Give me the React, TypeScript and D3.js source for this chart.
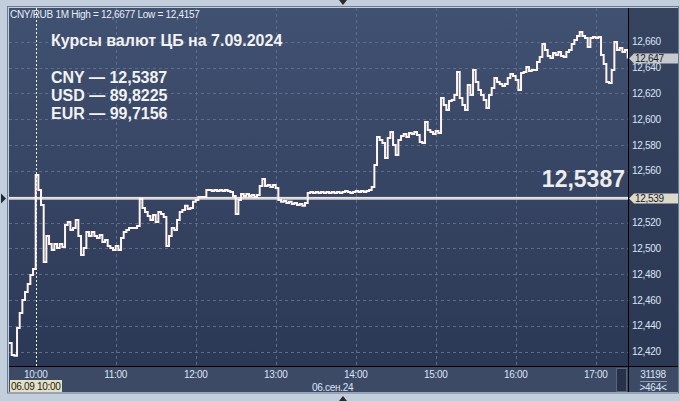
import * as d3 from "d3";

// chart texts
const headerText = "CNY/RUB 1M  High = 12,6677 Low = 12,4157";
const titleText = "Курсы валют ЦБ на 7.09.2024";
const rateLines = ["CNY — 12,5387", "USD — 89,8225", "EUR — 99,7156"];
const dateBox = "06.09 10:00";
const dayLabel = "06.сен.24";
const barsCount = "31198";
const barsShown = ">464<";

const cbRate = 12.5387;
const lastPrice = 12.647;

// 2-minute closes from 09:40
const startTime = new Date(2024, 8, 6, 9, 40);
const stepMinutes = 2;
const prices = [
  12.4268, 12.4175, 12.4168, 12.4384, 12.45, 12.4601, 12.4663, 12.4725, 12.4794, 12.4841,
  12.5568, 12.5452, 12.5336, 12.4895, 12.5096, 12.5034, 12.4988, 12.5034, 12.5003, 12.5034,
  12.5011, 12.5181, 12.5205, 12.5143, 12.5158, 12.522, 12.5096, 12.4949, 12.5003, 12.5127,
  12.5096, 12.5127, 12.5096, 12.5081, 12.5104, 12.505, 12.5065, 12.5019, 12.5003, 12.4988,
  12.5019, 12.4988, 12.5081, 12.5127, 12.5143, 12.5158, 12.5158, 12.5158, 12.5174, 12.5383,
  12.5313, 12.5282, 12.5251, 12.522, 12.5259, 12.5205, 12.5282, 12.5267, 12.5243, 12.5019,
  12.5096, 12.5158, 12.5143, 12.522, 12.5282, 12.5298, 12.5329, 12.5305, 12.5313, 12.536,
  12.5375, 12.5398, 12.5398, 12.5398, 12.5452, 12.5452, 12.5445, 12.5452, 12.5445, 12.5452,
  12.5445, 12.5452, 12.5445, 12.5437, 12.5406, 12.5267, 12.5375, 12.5421, 12.5406, 12.5421,
  12.5406, 12.5414, 12.5398, 12.5414, 12.5483, 12.5538, 12.5483, 12.5491, 12.5476, 12.5491,
  12.5468, 12.5375, 12.536, 12.5367, 12.5352, 12.536, 12.5344, 12.5352, 12.5336, 12.5344,
  12.5329, 12.5352, 12.5429, 12.5437, 12.5429, 12.5437, 12.5429, 12.5437, 12.5429, 12.5437,
  12.5429, 12.5437, 12.5429, 12.5437, 12.5429, 12.5437, 12.5445, 12.5437, 12.5429, 12.5437,
  12.5445, 12.5437, 12.5445, 12.5437, 12.5445, 12.5452, 12.5476, 12.5646, 12.5863, 12.5839,
  12.5816, 12.57, 12.5855, 12.5901, 12.5801, 12.5723, 12.5839, 12.587, 12.5886, 12.5863,
  12.5894, 12.5886, 12.5901, 12.5878, 12.5824, 12.5816, 12.5979, 12.5917, 12.5901, 12.5886,
  12.5909, 12.5894, 12.6164, 12.611, 12.6072, 12.6141, 12.6149, 12.6188, 12.6366, 12.6164,
  12.611, 12.6072, 12.6265, 12.6188, 12.6381, 12.6288, 12.6226, 12.6188, 12.6149, 12.6087,
  12.6188, 12.6242, 12.6319, 12.6288, 12.6273, 12.6257, 12.6273, 12.6319, 12.635, 12.6335,
  12.6304, 12.6226, 12.6358, 12.6366, 12.6404, 12.6373, 12.6381, 12.6381, 12.6443, 12.6482,
  12.6582, 12.6536, 12.649, 12.6474, 12.6513, 12.6497, 12.6521, 12.649, 12.6482, 12.6521,
  12.6536, 12.6582, 12.6613, 12.6644, 12.6675, 12.6644, 12.6629, 12.6559, 12.6629, 12.6637,
  12.6629, 12.6637, 12.6497, 12.6428, 12.6288, 12.6281, 12.6381, 12.6598, 12.6536, 12.6551,
  12.6521, 12.6536, 12.647,
];

const yTicks = [12.42, 12.44, 12.46, 12.48, 12.5, 12.52, 12.54, 12.56, 12.58, 12.6, 12.62, 12.64, 12.66];
const hourTicks = [10, 11, 12, 13, 14, 15, 16, 17];

const W = 680;
const H = 401;
const plot = { left: 9, right: 628, top: 8, bottom: 366 };
const font = "'Liberation Sans', Arial, sans-serif";

const comma = (v: number, digits: number) => v.toFixed(digits).replace(".", ",");

export default function App() {
  const series = prices.map((v, i) => ({
    t: d3.timeMinute.offset(startTime, i * stepMinutes),
    v,
  }));

  const x = d3
    .scaleTime()
    .domain([new Date(2024, 8, 6, 10, 0), new Date(2024, 8, 6, 17, 0)])
    .range([35.7, 595.7]);
  const y = d3.scaleLinear().domain([12.42, 12.66]).range([351.7, 41.7]);

  const line = d3
    .line<{ t: Date; v: number }>()
    .x((d) => x(d.t))
    .y((d) => y(d.v))
    .curve(d3.curveStepAfter);

  const hourDates = hourTicks.map((h) => new Date(2024, 8, 6, h, 0));
  const fmtHour = d3.timeFormat("%H:%M");

  const yCb = y(cbRate);
  const yLast = y(lastPrice);
  const sessionX = x(hourDates[0]);

  return (
    <svg
      width={W}
      height={H}
      style={{ position: "absolute", left: 0, top: 0, display: "block" }}
      fontFamily={font}
    >
      <defs>
        <linearGradient id="bg" x1="0" y1="0" x2="0" y2="1">
          <stop offset="0" stopColor="#415171" />
          <stop offset="1" stopColor="#2b3855" />
        </linearGradient>
        <linearGradient id="axisBg" x1="0" y1="0" x2="0" y2="1">
          <stop offset="0" stopColor="#36445f" />
          <stop offset="1" stopColor="#2b3853" />
        </linearGradient>
        <clipPath id="plotClip">
          <rect x={plot.left} y={plot.top} width={plot.right - plot.left} height={plot.bottom - plot.top} />
        </clipPath>
      </defs>

      {/* outer frame */}
      <rect x={0} y={0} width={W} height={H} fill="#c2cedb" />
      <rect x={7.5} y={6.5} width={671} height={386.5} fill="none" stroke="#6d7b8e" />

      {/* plot + panels */}
      <rect x={plot.left} y={plot.top} width={plot.right - plot.left} height={plot.bottom - plot.top} fill="url(#bg)" />
      <rect x={plot.right + 1} y={plot.top} width={W - 2 - plot.right - 1} height={plot.bottom - plot.top} fill="url(#axisBg)" />
      <rect x={plot.left} y={plot.bottom + 1} width={W - 2 - plot.left} height={392 - plot.bottom - 1} fill="#3d4a66" />
      <line x1={plot.right + 0.5} x2={plot.right + 0.5} y1={plot.top} y2={392} stroke="#000" />
      <line x1={plot.left} x2={W - 2} y1={plot.bottom + 0.5} y2={plot.bottom + 0.5} stroke="#000" />

      {/* grid */}
      <g stroke="#5d6c8a" strokeDasharray="3,3" strokeWidth={1}>
        {yTicks.map((t) => (
          <line key={t} x1={plot.left} x2={plot.right} y1={Math.round(y(t)) + 0.5} y2={Math.round(y(t)) + 0.5} />
        ))}
        {hourDates.slice(1).map((d) => (
          <line key={+d} x1={Math.round(x(d)) + 0.5} x2={Math.round(x(d)) + 0.5} y1={plot.top} y2={plot.bottom} />
        ))}
      </g>
      <line
        x1={Math.round(sessionX) + 0.5}
        x2={Math.round(sessionX) + 0.5}
        y1={plot.top}
        y2={plot.bottom}
        stroke="#f2f2f2"
        strokeDasharray="2,2"
      />

      {/* texts */}
      <text x={10} y={18} fontSize={10} fill="#e8eef6" letterSpacing={-0.3}>
        {headerText}
      </text>
      <text x={51} y={46} fontSize={16} fontWeight="bold" fill="#f2f2f2">
        {titleText}
      </text>
      {rateLines.map((t, i) => (
        <text key={t} x={51} y={83 + i * 18} fontSize={16} fontWeight="bold" fill="#f2f2f2">
          {t}
        </text>
      ))}

      {/* cb rate line */}
      <rect x={plot.left} y={yCb - 1.5} width={plot.right - plot.left} height={3} fill="#bdbdbd" />
      <line x1={plot.left} x2={plot.right} y1={yCb - 0.5} y2={yCb - 0.5} stroke="#ffffff" />
      <text x={625} y={187} textAnchor="end" fontSize={23} fontWeight="bold" fill="#ececec">
        {comma(cbRate, 4)}
      </text>

      {/* price line */}
      <g clipPath="url(#plotClip)">
        <path d={line(series) ?? ""} fill="none" stroke="#fff4ef" strokeWidth={2} />
      </g>

      {/* y axis (tick under the cb box is hidden, as in the terminal) */}
      <g fontSize={10} fill="#dbe4f2" letterSpacing={-0.3}>
        {yTicks
          .filter((t) => Math.abs(y(t) - yCb) > 8)
          .map((t) => (
            <text key={t} x={632} y={y(t)} dominantBaseline="central">
              {comma(t, 3)}
            </text>
          ))}
      </g>
      <g>
        <path
          d={`M629,${yCb} L634,${yCb - 5} L678,${yCb - 5} L678,${yCb + 5} L634,${yCb + 5} Z`}
          fill="#dcdacb"
        />
        <text x={635} y={yCb} fontSize={10} fill="#1b1b1b" dominantBaseline="central" letterSpacing={-0.3}>
          {comma(cbRate, 3)}
        </text>
        <path
          d={`M629,${yLast} L634,${yLast - 5} L678,${yLast - 5} L678,${yLast + 5} L634,${yLast + 5} Z`}
          fill="#c6cacf"
        />
        <text x={635} y={yLast} fontSize={10} fill="#1b1b1b" dominantBaseline="central" letterSpacing={-0.3}>
          {comma(lastPrice, 3)}
        </text>
      </g>

      {/* x axis */}
      <g fontSize={10} fill="#dbe4f2" letterSpacing={-0.3}>
        {hourDates.map((d) => (
          <text key={+d} x={x(d)} y={378} textAnchor="middle">
            {fmtHour(d)}
          </text>
        ))}
        <text x={312} y={391}>{dayLabel}</text>
      </g>
      <rect x={10} y={380} width={52} height={12} fill="#e4e0c3" />
      <text x={11} y={390} fontSize={10} fill="#1b1b1b" letterSpacing={-0.3}>
        {dateBox}
      </text>
      <rect x={616.5} y={368.5} width={10} height={23} fill="#27324a" stroke="#56647c" />
      <g fontSize={10} fill="#dbe4f2" textAnchor="middle" letterSpacing={-0.3}>
        <text x={653} y={378}>{barsCount}</text>
        <line x1={640} x2={667} y1={381.5} y2={381.5} stroke="#8d9ab0" />
        <text x={653} y={391}>{barsShown}</text>
      </g>

      {/* markers */}
      <path d={`M1,${yCb - 5} L6,${yCb} L1,${yCb + 5} Z`} fill="#1f2a3b" />
      <path d="M339,0 L347,0 L343,5 Z" fill="#2a2a2a" />
      <path d="M339,401 L347,401 L343,396 Z" fill="#2a2a2a" />
    </svg>
  );
}
